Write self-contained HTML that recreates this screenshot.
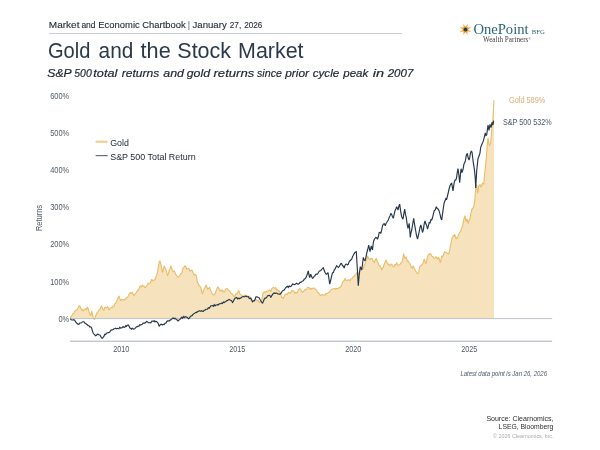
<!DOCTYPE html>
<html><head><meta charset="utf-8"><title>Gold and the Stock Market</title>
<style>
html,body{margin:0;padding:0;background:#fff;}
body{width:600px;height:450px;position:relative;overflow:hidden;font-family:"Liberation Sans",sans-serif;color:#2b3a4a;}
.t{position:absolute;white-space:nowrap;line-height:1;transform-origin:0 0;}
.r{transform-origin:100% 0;}
svg{position:absolute;left:0;top:0;}
svg text{font-family:"Liberation Sans",sans-serif;}
</style></head><body>
<div style="position:absolute;left:49px;top:33px;width:353px;height:1px;background:#c9ced8;"></div>
<svg width="600" height="450" viewBox="0 0 600 450">
  <text x="48.8" y="28" font-size="9.3" fill="#252d38" stroke="#252d38" stroke-width="0.12" textLength="30.7" lengthAdjust="spacingAndGlyphs">Market</text>
  <text x="81.4" y="28" font-size="9.3" fill="#252d38" stroke="#252d38" stroke-width="0.12" textLength="14.2" lengthAdjust="spacingAndGlyphs">and</text>
  <text x="98.3" y="28" font-size="9.3" fill="#252d38" stroke="#252d38" stroke-width="0.12" textLength="41.4" lengthAdjust="spacingAndGlyphs">Economic</text>
  <text x="142.3" y="28" font-size="9.3" fill="#252d38" stroke="#252d38" stroke-width="0.12" textLength="43.4" lengthAdjust="spacingAndGlyphs">Chartbook</text>
  <text x="188.2" y="28" font-size="9.3" fill="#252d38" stroke="#252d38" stroke-width="0.12" textLength="1.4" lengthAdjust="spacingAndGlyphs">|</text>
  <text x="192.5" y="28" font-size="9.3" fill="#252d38" stroke="#252d38" stroke-width="0.12" textLength="34.2" lengthAdjust="spacingAndGlyphs">January</text>
  <text x="229.7" y="28" font-size="9.3" fill="#252d38" stroke="#252d38" stroke-width="0.12" textLength="11.5" lengthAdjust="spacingAndGlyphs">27,</text>
  <text x="244.3" y="28" font-size="9.3" fill="#252d38" stroke="#252d38" stroke-width="0.12" textLength="18.0" lengthAdjust="spacingAndGlyphs">2026</text>
  <text x="48.0" y="58" font-size="21.6" fill="#2b3a4a"  textLength="42.4" lengthAdjust="spacingAndGlyphs">Gold</text>
  <text x="98.6" y="58" font-size="21.6" fill="#2b3a4a"  textLength="34.7" lengthAdjust="spacingAndGlyphs">and</text>
  <text x="140.6" y="58" font-size="21.6" fill="#2b3a4a"  textLength="30.1" lengthAdjust="spacingAndGlyphs">the</text>
  <text x="177.3" y="58" font-size="21.6" fill="#2b3a4a"  textLength="53.8" lengthAdjust="spacingAndGlyphs">Stock</text>
  <text x="238.1" y="58" font-size="21.6" fill="#2b3a4a"  textLength="65.4" lengthAdjust="spacingAndGlyphs">Market</text>
  <text x="47.3" y="76.5" font-size="11.8" fill="#1e2630" font-style="italic" stroke="#1e2630" stroke-width="0.2" textLength="24.4" lengthAdjust="spacingAndGlyphs">S&amp;P</text>
  <text x="74.3" y="76.5" font-size="11.8" fill="#1e2630" font-style="italic" stroke="#1e2630" stroke-width="0.2" textLength="17.4" lengthAdjust="spacingAndGlyphs">500</text>
  <text x="93.3" y="76.5" font-size="11.8" fill="#1e2630" font-style="italic" stroke="#1e2630" stroke-width="0.2" textLength="24.0" lengthAdjust="spacingAndGlyphs">total</text>
  <text x="121.7" y="76.5" font-size="11.8" fill="#1e2630" font-style="italic" stroke="#1e2630" stroke-width="0.2" textLength="37.6" lengthAdjust="spacingAndGlyphs">returns</text>
  <text x="163.3" y="76.5" font-size="11.8" fill="#1e2630" font-style="italic" stroke="#1e2630" stroke-width="0.2" textLength="20.7" lengthAdjust="spacingAndGlyphs">and</text>
  <text x="186.7" y="76.5" font-size="11.8" fill="#1e2630" font-style="italic" stroke="#1e2630" stroke-width="0.2" textLength="23.3" lengthAdjust="spacingAndGlyphs">gold</text>
  <text x="213.5" y="76.5" font-size="11.8" fill="#1e2630" font-style="italic" stroke="#1e2630" stroke-width="0.2" textLength="40.8" lengthAdjust="spacingAndGlyphs">returns</text>
  <text x="257" y="76.5" font-size="11.8" fill="#1e2630" font-style="italic" stroke="#1e2630" stroke-width="0.2" textLength="25.0" lengthAdjust="spacingAndGlyphs">since</text>
  <text x="285.2" y="76.5" font-size="11.8" fill="#1e2630" font-style="italic" stroke="#1e2630" stroke-width="0.2" textLength="23.8" lengthAdjust="spacingAndGlyphs">prior</text>
  <text x="312.7" y="76.5" font-size="11.8" fill="#1e2630" font-style="italic" stroke="#1e2630" stroke-width="0.2" textLength="26.6" lengthAdjust="spacingAndGlyphs">cycle</text>
  <text x="343.3" y="76.5" font-size="11.8" fill="#1e2630" font-style="italic" stroke="#1e2630" stroke-width="0.2" textLength="25.0" lengthAdjust="spacingAndGlyphs">peak</text>
  <text x="372.7" y="76.5" font-size="11.8" fill="#1e2630" font-style="italic" stroke="#1e2630" stroke-width="0.2" textLength="11.3" lengthAdjust="spacingAndGlyphs">in</text>
  <text x="387.7" y="76.5" font-size="11.8" fill="#1e2630" font-style="italic" stroke="#1e2630" stroke-width="0.2" textLength="25.6" lengthAdjust="spacingAndGlyphs">2007</text>
  <path d="M70.2,318.3 L71.2,316.3 L72.3,315.0 L73.2,313.2 L74.0,313.2 L74.8,311.0 L75.7,310.8 L76.5,310.1 L77.3,309.2 L78.1,307.8 L79.0,306.0 L79.8,305.8 L80.7,307.9 L81.5,310.0 L82.3,309.4 L83.2,310.8 L84.0,309.9 L84.8,309.2 L85.7,308.7 L86.5,310.0 L87.3,307.0 L88.2,308.5 L89.0,311.7 L89.8,313.6 L90.7,315.8 L91.8,310.8 L92.5,314.8 L93.2,317.5 L94.5,319.7 L95.5,316.2 L96.5,314.2 L97.3,312.2 L98.2,311.7 L99.0,310.0 L99.8,309.5 L100.7,307.4 L101.5,305.8 L102.3,307.7 L103.2,310.0 L104.0,310.2 L104.9,307.4 L105.7,307.5 L106.7,307.8 L107.7,306.7 L109.0,310.0 L109.8,308.9 L110.7,308.0 L111.5,307.3 L112.3,307.5 L113.2,306.1 L114.0,306.1 L114.8,303.7 L115.7,303.3 L116.5,301.6 L117.3,299.8 L118.2,297.4 L119.0,295.8 L119.8,298.4 L120.7,300.8 L121.5,299.7 L122.3,299.5 L123.2,299.6 L124.0,300.0 L124.8,299.8 L125.7,298.6 L126.5,297.7 L127.3,297.5 L128.1,296.3 L129.0,294.6 L129.8,293.3 L130.6,292.6 L131.5,293.4 L132.3,292.5 L133.2,294.6 L134.0,295.8 L134.8,294.0 L135.7,293.5 L136.5,292.1 L137.3,290.8 L138.1,290.3 L139.0,288.6 L139.8,286.7 L140.7,286.0 L141.5,287.3 L142.3,285.2 L143.2,285.8 L144.0,286.2 L144.9,287.5 L145.7,287.5 L146.5,285.7 L147.3,285.4 L148.2,283.3 L149.0,283.3 L150.0,283.3 L150.8,281.6 L151.7,279.2 L152.5,280.6 L153.3,280.8 L154.1,279.9 L155.0,279.5 L155.8,277.5 L156.7,274.6 L157.5,272.5 L158.3,267.6 L159.2,261.7 L160.0,260.8 L161.3,265.8 L162.5,272.5 L163.3,269.4 L164.2,265.8 L165.0,267.7 L165.8,269.2 L166.7,272.4 L167.5,275.8 L168.3,273.7 L169.2,270.0 L170.0,269.0 L170.8,265.8 L171.7,268.2 L172.5,270.8 L173.3,271.8 L174.2,270.9 L175.0,272.5 L175.8,274.4 L176.7,275.6 L177.5,276.7 L178.3,277.3 L179.2,276.3 L180.0,275.0 L180.8,273.6 L181.7,273.3 L182.5,270.1 L183.3,267.5 L184.2,267.1 L185.0,265.8 L185.8,266.4 L186.7,269.2 L187.5,268.7 L188.3,268.3 L189.2,269.2 L190.0,271.7 L190.8,270.5 L191.7,270.1 L192.5,270.8 L193.3,273.5 L194.2,275.0 L195.2,274.5 L196.3,275.8 L197.5,282.5 L198.3,283.6 L199.2,285.8 L200.0,286.4 L200.8,287.5 L201.7,291.7 L202.5,294.2 L203.3,290.8 L204.2,289.2 L205.2,287.0 L206.2,285.0 L207.5,289.2 L208.6,288.5 L209.7,287.5 L210.7,290.8 L211.7,292.5 L212.7,294.4 L213.7,295.0 L214.8,294.1 L215.8,291.7 L216.9,288.7 L218.0,286.7 L219.0,288.6 L220.0,290.8 L220.8,290.2 L221.7,291.1 L222.5,290.0 L223.6,291.9 L224.7,291.7 L225.5,289.4 L226.3,288.7 L227.3,288.6 L228.3,290.0 L229.1,290.5 L230.0,291.6 L230.8,293.3 L231.7,293.7 L232.5,294.2 L233.3,295.6 L234.2,296.7 L235.0,295.4 L235.9,294.0 L236.7,294.2 L237.7,292.1 L238.7,290.3 L240.0,294.2 L240.8,294.4 L241.7,295.4 L242.5,295.8 L243.3,296.5 L244.2,295.7 L245.0,295.0 L245.8,295.3 L246.7,295.8 L247.5,295.8 L248.3,296.7 L249.2,296.0 L250.0,297.5 L250.8,299.8 L251.7,300.9 L252.5,301.7 L253.3,301.7 L254.2,300.7 L255.0,299.2 L255.8,299.5 L256.7,300.1 L257.5,300.8 L258.3,300.5 L259.2,302.2 L260.0,302.5 L260.9,300.3 L261.7,300.0 L263.0,293.3 L263.9,292.1 L264.9,292.1 L265.8,292.5 L266.6,291.2 L267.5,291.0 L268.3,290.8 L269.1,290.1 L270.0,290.3 L270.8,291.7 L271.6,289.1 L272.5,288.0 L273.3,287.2 L274.2,287.9 L275.0,288.3 L275.8,287.7 L276.7,290.1 L277.5,289.7 L278.3,290.9 L279.2,290.8 L280.0,292.5 L280.9,294.5 L281.7,297.5 L282.5,297.6 L283.3,298.3 L284.1,296.6 L285.0,294.7 L285.8,294.2 L286.6,294.4 L287.5,294.1 L288.3,292.5 L289.1,292.8 L290.0,293.3 L290.8,292.4 L291.7,290.7 L292.5,290.8 L293.3,290.8 L294.2,292.1 L295.0,293.3 L295.8,292.3 L296.7,293.0 L297.5,291.7 L298.6,289.5 L299.7,288.7 L300.7,289.1 L301.7,291.7 L302.5,292.4 L303.4,291.2 L304.2,290.8 L305.0,289.5 L305.9,289.8 L306.7,289.2 L307.5,287.3 L308.3,287.5 L309.1,287.8 L310.0,289.1 L310.8,288.3 L311.6,289.0 L312.5,288.5 L313.3,288.0 L314.1,288.0 L315.0,288.8 L315.8,289.7 L316.6,289.9 L317.5,292.2 L318.3,292.5 L319.1,293.5 L320.0,295.0 L320.8,295.3 L321.6,294.8 L322.5,294.5 L323.3,295.0 L324.1,295.1 L325.0,294.9 L325.8,293.3 L326.6,293.8 L327.5,293.4 L328.3,292.5 L329.1,292.4 L330.0,291.4 L330.8,290.0 L331.6,289.0 L332.5,289.2 L333.3,288.7 L334.1,288.7 L335.0,288.3 L335.8,289.7 L336.6,288.3 L337.5,288.5 L338.3,288.7 L339.1,287.6 L340.0,287.5 L340.8,286.3 L341.7,285.2 L342.5,282.5 L343.3,281.0 L344.2,280.7 L345.0,278.3 L345.8,280.0 L346.7,280.5 L347.5,280.0 L348.3,280.0 L349.2,279.9 L350.0,280.8 L350.8,279.3 L351.7,278.4 L352.5,278.3 L353.3,276.5 L354.2,276.4 L355.0,275.0 L355.9,274.7 L356.7,272.5 L358.0,274.2 L359.0,272.9 L360.0,270.0 L360.8,269.7 L361.7,269.8 L362.5,269.2 L363.3,268.2 L364.2,264.9 L365.0,264.2 L365.8,261.8 L366.7,259.6 L367.5,255.8 L368.4,258.2 L369.2,259.2 L370.0,259.5 L370.9,258.5 L371.7,258.3 L372.5,258.9 L373.4,261.8 L374.2,262.5 L375.2,260.0 L376.3,258.3 L377.3,261.5 L378.3,263.3 L379.1,265.7 L380.0,265.8 L380.9,267.7 L381.7,270.0 L382.5,267.8 L383.4,267.2 L384.2,264.2 L385.0,262.6 L385.8,260.0 L386.6,261.3 L387.5,264.2 L388.6,264.1 L389.7,265.8 L390.7,264.2 L391.7,264.2 L392.5,266.0 L393.4,266.6 L394.2,266.7 L395.0,264.5 L395.9,264.7 L396.7,262.5 L397.5,264.9 L398.3,265.0 L399.1,265.0 L400.0,264.3 L401.0,262.9 L402.0,262.3 L402.9,258.1 L403.7,253.7 L404.7,258.3 L406.0,257.0 L407.3,261.0 L408.3,261.1 L409.3,263.0 L410.3,264.2 L411.3,267.7 L412.3,267.8 L413.3,265.7 L414.1,268.1 L415.0,269.7 L415.9,271.4 L416.7,273.0 L417.7,273.7 L418.7,272.3 L419.7,267.0 L420.5,265.8 L421.3,265.0 L422.1,264.9 L423.0,263.0 L424.3,259.0 L425.1,262.1 L426.0,263.7 L426.9,259.3 L427.7,256.3 L428.5,254.7 L429.3,254.3 L430.0,253.5 L430.7,253.7 L432.0,256.3 L433.0,256.7 L434.0,258.3 L434.9,257.9 L435.7,257.0 L436.5,257.4 L437.3,259.0 L438.0,258.2 L438.7,257.7 L439.5,259.5 L440.3,263.0 L441.6,256.3 L442.5,256.7 L443.3,255.0 L444.0,253.0 L444.7,251.7 L445.7,252.2 L446.7,253.0 L447.7,253.6 L448.7,253.7 L449.5,251.0 L450.4,246.3 L451.2,242.1 L452.0,238.3 L453.3,235.7 L454.0,236.1 L454.7,234.3 L455.5,236.7 L456.3,239.0 L457.1,237.7 L458.0,236.3 L459.3,233.0 L460.0,232.1 L460.7,231.0 L461.7,227.4 L462.7,226.3 L463.3,221.7 L464.1,218.5 L465.0,215.7 L466.0,221.7 L467.0,219.0 L468.3,223.7 L469.1,220.5 L470.0,219.0 L471.0,212.6 L472.0,209.0 L473.3,207.7 L474.0,205.2 L474.7,201.0 L475.5,190.0 L476.7,184.7 L477.6,193.3 L478.7,186.0 L480.0,184.7 L481.3,187.3 L482.0,184.3 L482.7,183.3 L483.7,184.0 L484.7,173.3 L486.0,161.3 L487.0,148.0 L488.0,138.0 L489.3,146.0 L490.0,144.2 L490.7,142.5 L491.7,130.3 L492.7,122.3 L493.3,111.7 L494.0,100.3 L494.0,318.4 L70.2,318.4 Z" fill="#f6e3bd" stroke="none"/>
  <path d="M70.2,318.3 L71.2,316.3 L72.3,315.0 L73.2,313.2 L74.0,313.2 L74.8,311.0 L75.7,310.8 L76.5,310.1 L77.3,309.2 L78.1,307.8 L79.0,306.0 L79.8,305.8 L80.7,307.9 L81.5,310.0 L82.3,309.4 L83.2,310.8 L84.0,309.9 L84.8,309.2 L85.7,308.7 L86.5,310.0 L87.3,307.0 L88.2,308.5 L89.0,311.7 L89.8,313.6 L90.7,315.8 L91.8,310.8 L92.5,314.8 L93.2,317.5 L94.5,319.7 L95.5,316.2 L96.5,314.2 L97.3,312.2 L98.2,311.7 L99.0,310.0 L99.8,309.5 L100.7,307.4 L101.5,305.8 L102.3,307.7 L103.2,310.0 L104.0,310.2 L104.9,307.4 L105.7,307.5 L106.7,307.8 L107.7,306.7 L109.0,310.0 L109.8,308.9 L110.7,308.0 L111.5,307.3 L112.3,307.5 L113.2,306.1 L114.0,306.1 L114.8,303.7 L115.7,303.3 L116.5,301.6 L117.3,299.8 L118.2,297.4 L119.0,295.8 L119.8,298.4 L120.7,300.8 L121.5,299.7 L122.3,299.5 L123.2,299.6 L124.0,300.0 L124.8,299.8 L125.7,298.6 L126.5,297.7 L127.3,297.5 L128.1,296.3 L129.0,294.6 L129.8,293.3 L130.6,292.6 L131.5,293.4 L132.3,292.5 L133.2,294.6 L134.0,295.8 L134.8,294.0 L135.7,293.5 L136.5,292.1 L137.3,290.8 L138.1,290.3 L139.0,288.6 L139.8,286.7 L140.7,286.0 L141.5,287.3 L142.3,285.2 L143.2,285.8 L144.0,286.2 L144.9,287.5 L145.7,287.5 L146.5,285.7 L147.3,285.4 L148.2,283.3 L149.0,283.3 L150.0,283.3 L150.8,281.6 L151.7,279.2 L152.5,280.6 L153.3,280.8 L154.1,279.9 L155.0,279.5 L155.8,277.5 L156.7,274.6 L157.5,272.5 L158.3,267.6 L159.2,261.7 L160.0,260.8 L161.3,265.8 L162.5,272.5 L163.3,269.4 L164.2,265.8 L165.0,267.7 L165.8,269.2 L166.7,272.4 L167.5,275.8 L168.3,273.7 L169.2,270.0 L170.0,269.0 L170.8,265.8 L171.7,268.2 L172.5,270.8 L173.3,271.8 L174.2,270.9 L175.0,272.5 L175.8,274.4 L176.7,275.6 L177.5,276.7 L178.3,277.3 L179.2,276.3 L180.0,275.0 L180.8,273.6 L181.7,273.3 L182.5,270.1 L183.3,267.5 L184.2,267.1 L185.0,265.8 L185.8,266.4 L186.7,269.2 L187.5,268.7 L188.3,268.3 L189.2,269.2 L190.0,271.7 L190.8,270.5 L191.7,270.1 L192.5,270.8 L193.3,273.5 L194.2,275.0 L195.2,274.5 L196.3,275.8 L197.5,282.5 L198.3,283.6 L199.2,285.8 L200.0,286.4 L200.8,287.5 L201.7,291.7 L202.5,294.2 L203.3,290.8 L204.2,289.2 L205.2,287.0 L206.2,285.0 L207.5,289.2 L208.6,288.5 L209.7,287.5 L210.7,290.8 L211.7,292.5 L212.7,294.4 L213.7,295.0 L214.8,294.1 L215.8,291.7 L216.9,288.7 L218.0,286.7 L219.0,288.6 L220.0,290.8 L220.8,290.2 L221.7,291.1 L222.5,290.0 L223.6,291.9 L224.7,291.7 L225.5,289.4 L226.3,288.7 L227.3,288.6 L228.3,290.0 L229.1,290.5 L230.0,291.6 L230.8,293.3 L231.7,293.7 L232.5,294.2 L233.3,295.6 L234.2,296.7 L235.0,295.4 L235.9,294.0 L236.7,294.2 L237.7,292.1 L238.7,290.3 L240.0,294.2 L240.8,294.4 L241.7,295.4 L242.5,295.8 L243.3,296.5 L244.2,295.7 L245.0,295.0 L245.8,295.3 L246.7,295.8 L247.5,295.8 L248.3,296.7 L249.2,296.0 L250.0,297.5 L250.8,299.8 L251.7,300.9 L252.5,301.7 L253.3,301.7 L254.2,300.7 L255.0,299.2 L255.8,299.5 L256.7,300.1 L257.5,300.8 L258.3,300.5 L259.2,302.2 L260.0,302.5 L260.9,300.3 L261.7,300.0 L263.0,293.3 L263.9,292.1 L264.9,292.1 L265.8,292.5 L266.6,291.2 L267.5,291.0 L268.3,290.8 L269.1,290.1 L270.0,290.3 L270.8,291.7 L271.6,289.1 L272.5,288.0 L273.3,287.2 L274.2,287.9 L275.0,288.3 L275.8,287.7 L276.7,290.1 L277.5,289.7 L278.3,290.9 L279.2,290.8 L280.0,292.5 L280.9,294.5 L281.7,297.5 L282.5,297.6 L283.3,298.3 L284.1,296.6 L285.0,294.7 L285.8,294.2 L286.6,294.4 L287.5,294.1 L288.3,292.5 L289.1,292.8 L290.0,293.3 L290.8,292.4 L291.7,290.7 L292.5,290.8 L293.3,290.8 L294.2,292.1 L295.0,293.3 L295.8,292.3 L296.7,293.0 L297.5,291.7 L298.6,289.5 L299.7,288.7 L300.7,289.1 L301.7,291.7 L302.5,292.4 L303.4,291.2 L304.2,290.8 L305.0,289.5 L305.9,289.8 L306.7,289.2 L307.5,287.3 L308.3,287.5 L309.1,287.8 L310.0,289.1 L310.8,288.3 L311.6,289.0 L312.5,288.5 L313.3,288.0 L314.1,288.0 L315.0,288.8 L315.8,289.7 L316.6,289.9 L317.5,292.2 L318.3,292.5 L319.1,293.5 L320.0,295.0 L320.8,295.3 L321.6,294.8 L322.5,294.5 L323.3,295.0 L324.1,295.1 L325.0,294.9 L325.8,293.3 L326.6,293.8 L327.5,293.4 L328.3,292.5 L329.1,292.4 L330.0,291.4 L330.8,290.0 L331.6,289.0 L332.5,289.2 L333.3,288.7 L334.1,288.7 L335.0,288.3 L335.8,289.7 L336.6,288.3 L337.5,288.5 L338.3,288.7 L339.1,287.6 L340.0,287.5 L340.8,286.3 L341.7,285.2 L342.5,282.5 L343.3,281.0 L344.2,280.7 L345.0,278.3 L345.8,280.0 L346.7,280.5 L347.5,280.0 L348.3,280.0 L349.2,279.9 L350.0,280.8 L350.8,279.3 L351.7,278.4 L352.5,278.3 L353.3,276.5 L354.2,276.4 L355.0,275.0 L355.9,274.7 L356.7,272.5 L358.0,274.2 L359.0,272.9 L360.0,270.0 L360.8,269.7 L361.7,269.8 L362.5,269.2 L363.3,268.2 L364.2,264.9 L365.0,264.2 L365.8,261.8 L366.7,259.6 L367.5,255.8 L368.4,258.2 L369.2,259.2 L370.0,259.5 L370.9,258.5 L371.7,258.3 L372.5,258.9 L373.4,261.8 L374.2,262.5 L375.2,260.0 L376.3,258.3 L377.3,261.5 L378.3,263.3 L379.1,265.7 L380.0,265.8 L380.9,267.7 L381.7,270.0 L382.5,267.8 L383.4,267.2 L384.2,264.2 L385.0,262.6 L385.8,260.0 L386.6,261.3 L387.5,264.2 L388.6,264.1 L389.7,265.8 L390.7,264.2 L391.7,264.2 L392.5,266.0 L393.4,266.6 L394.2,266.7 L395.0,264.5 L395.9,264.7 L396.7,262.5 L397.5,264.9 L398.3,265.0 L399.1,265.0 L400.0,264.3 L401.0,262.9 L402.0,262.3 L402.9,258.1 L403.7,253.7 L404.7,258.3 L406.0,257.0 L407.3,261.0 L408.3,261.1 L409.3,263.0 L410.3,264.2 L411.3,267.7 L412.3,267.8 L413.3,265.7 L414.1,268.1 L415.0,269.7 L415.9,271.4 L416.7,273.0 L417.7,273.7 L418.7,272.3 L419.7,267.0 L420.5,265.8 L421.3,265.0 L422.1,264.9 L423.0,263.0 L424.3,259.0 L425.1,262.1 L426.0,263.7 L426.9,259.3 L427.7,256.3 L428.5,254.7 L429.3,254.3 L430.0,253.5 L430.7,253.7 L432.0,256.3 L433.0,256.7 L434.0,258.3 L434.9,257.9 L435.7,257.0 L436.5,257.4 L437.3,259.0 L438.0,258.2 L438.7,257.7 L439.5,259.5 L440.3,263.0 L441.6,256.3 L442.5,256.7 L443.3,255.0 L444.0,253.0 L444.7,251.7 L445.7,252.2 L446.7,253.0 L447.7,253.6 L448.7,253.7 L449.5,251.0 L450.4,246.3 L451.2,242.1 L452.0,238.3 L453.3,235.7 L454.0,236.1 L454.7,234.3 L455.5,236.7 L456.3,239.0 L457.1,237.7 L458.0,236.3 L459.3,233.0 L460.0,232.1 L460.7,231.0 L461.7,227.4 L462.7,226.3 L463.3,221.7 L464.1,218.5 L465.0,215.7 L466.0,221.7 L467.0,219.0 L468.3,223.7 L469.1,220.5 L470.0,219.0 L471.0,212.6 L472.0,209.0 L473.3,207.7 L474.0,205.2 L474.7,201.0 L475.5,190.0 L476.7,184.7 L477.6,193.3 L478.7,186.0 L480.0,184.7 L481.3,187.3 L482.0,184.3 L482.7,183.3 L483.7,184.0 L484.7,173.3 L486.0,161.3 L487.0,148.0 L488.0,138.0 L489.3,146.0 L490.0,144.2 L490.7,142.5 L491.7,130.3 L492.7,122.3 L493.3,111.7 L494.0,100.3" fill="none" stroke="#ebbc68" stroke-width="1.1" stroke-linejoin="miter" stroke-miterlimit="2"/>
  <line x1="70" y1="318.6" x2="552.2" y2="318.6" stroke="#b5bcc4" stroke-width="0.9"/>
  <line x1="70" y1="341.2" x2="552.2" y2="341.2" stroke="#a8b0b9" stroke-width="1"/>
  <path d="M70.2,318.7 L71.2,319.7 L72.3,320.0 L73.2,319.9 L74.0,319.7 L74.8,320.5 L75.7,321.9 L76.5,323.0 L77.3,323.5 L78.2,324.3 L79.0,324.2 L79.8,323.0 L80.7,323.0 L81.5,322.8 L82.3,321.9 L83.2,321.7 L84.0,321.7 L84.8,323.0 L85.7,323.4 L86.5,324.2 L87.3,324.8 L88.2,325.7 L89.0,325.8 L89.8,327.0 L90.7,326.8 L91.5,327.5 L92.3,330.6 L93.2,333.3 L94.0,334.1 L94.9,335.0 L95.7,335.8 L96.5,335.3 L97.3,334.2 L98.1,334.4 L99.0,334.8 L99.8,335.0 L100.6,336.1 L101.5,337.9 L102.3,338.3 L103.1,337.3 L104.0,336.2 L104.8,334.2 L105.7,334.5 L106.5,333.0 L107.3,333.0 L108.2,332.5 L109.0,332.7 L109.8,332.0 L110.7,330.4 L111.5,329.9 L112.3,330.0 L113.1,329.6 L114.0,328.7 L114.8,328.7 L115.6,328.2 L116.5,328.9 L117.3,328.3 L118.1,328.6 L119.0,328.7 L119.8,327.3 L120.6,328.1 L121.5,327.9 L122.3,327.5 L123.1,326.6 L124.0,327.4 L124.8,327.2 L125.7,325.6 L126.5,326.4 L127.4,325.2 L128.2,325.0 L129.0,326.1 L129.9,328.0 L130.7,328.3 L131.5,329.1 L132.3,328.2 L133.2,328.9 L134.0,329.2 L134.8,328.6 L135.7,327.7 L136.5,326.8 L137.3,326.7 L138.1,326.0 L139.0,326.2 L139.8,324.7 L140.6,325.1 L141.5,324.5 L142.3,324.2 L143.1,323.0 L144.0,323.1 L144.8,323.1 L145.6,322.6 L146.5,321.4 L147.3,321.7 L148.2,322.7 L149.1,322.7 L150.0,322.5 L150.8,323.0 L151.7,321.3 L152.5,321.2 L153.3,321.3 L154.2,320.7 L155.0,321.9 L155.8,321.2 L156.7,321.7 L158.0,323.0 L159.2,326.3 L160.5,324.5 L161.5,324.2 L162.5,325.0 L163.3,324.3 L164.2,324.5 L165.0,323.3 L165.8,323.2 L166.7,321.7 L167.5,320.9 L168.3,320.8 L169.2,321.1 L170.0,320.1 L170.8,319.9 L171.7,319.2 L172.5,318.3 L173.3,318.0 L174.2,318.8 L175.0,318.3 L175.8,319.0 L176.7,319.3 L177.5,320.8 L178.3,320.9 L179.2,319.8 L180.0,319.4 L180.8,318.3 L181.6,317.3 L182.5,318.2 L183.3,316.6 L184.2,317.6 L185.0,316.7 L185.8,316.9 L186.7,317.1 L187.5,317.7 L188.4,318.7 L189.2,318.3 L190.0,317.1 L190.8,316.0 L191.7,315.9 L192.5,315.0 L193.3,314.1 L194.2,313.4 L195.0,312.9 L195.9,312.3 L196.7,312.5 L197.5,311.6 L198.3,311.3 L199.2,310.9 L200.0,310.8 L200.8,311.4 L201.7,310.7 L202.5,311.2 L203.3,311.3 L204.1,310.3 L205.0,310.2 L205.8,309.2 L206.7,309.2 L207.5,309.2 L208.3,307.7 L209.2,308.2 L210.0,307.2 L210.9,305.9 L211.7,305.8 L212.5,305.6 L213.4,306.3 L214.2,304.7 L215.0,305.8 L215.9,305.0 L216.7,305.0 L217.5,304.7 L218.4,304.9 L219.2,303.8 L220.0,303.7 L220.9,303.7 L221.7,303.0 L222.5,303.5 L223.4,302.0 L224.2,302.5 L225.0,301.9 L225.9,301.4 L226.7,300.8 L227.5,300.4 L228.3,300.1 L229.2,299.4 L230.0,300.0 L230.8,300.2 L231.7,300.9 L232.5,302.5 L233.3,301.5 L234.2,299.3 L235.0,298.3 L235.8,297.7 L236.7,297.5 L237.5,298.9 L238.3,298.3 L239.2,298.8 L240.0,298.0 L240.8,298.1 L241.7,297.1 L242.5,296.7 L243.4,296.6 L244.2,296.7 L245.0,296.6 L245.8,296.1 L246.7,296.6 L247.5,296.7 L248.3,296.6 L249.2,298.2 L250.0,298.5 L250.8,298.0 L251.7,299.9 L252.5,301.7 L253.3,300.8 L254.2,300.8 L255.0,299.8 L255.8,297.0 L256.6,296.8 L257.5,297.1 L258.3,297.5 L259.1,297.7 L260.0,299.5 L260.8,300.8 L261.6,302.0 L262.5,303.3 L263.4,301.3 L264.2,299.2 L265.0,298.1 L265.9,298.1 L266.7,297.5 L267.5,295.8 L268.4,295.6 L269.2,295.3 L270.0,295.6 L270.8,297.5 L271.6,295.9 L272.5,294.7 L273.3,293.4 L274.2,292.9 L275.0,293.3 L275.8,293.1 L276.7,293.1 L277.5,293.7 L278.3,294.0 L279.2,294.1 L280.0,294.2 L280.8,293.5 L281.7,292.2 L282.5,290.8 L283.3,290.5 L284.2,290.1 L285.0,288.7 L285.8,287.7 L286.7,286.8 L287.5,286.3 L288.3,287.4 L289.2,285.9 L290.0,286.7 L290.8,286.5 L291.6,285.7 L292.5,283.9 L293.3,284.2 L294.1,284.6 L295.0,284.5 L295.9,283.8 L296.7,283.3 L297.5,283.9 L298.4,284.2 L299.2,283.7 L300.0,282.3 L300.9,282.4 L301.7,281.7 L302.5,280.9 L303.4,280.7 L304.2,279.2 L305.0,278.7 L305.9,277.6 L306.7,275.8 L307.5,273.5 L308.3,270.8 L309.0,275.0 L309.7,277.5 L310.8,274.2 L311.6,276.6 L312.5,278.3 L313.3,277.9 L314.2,276.1 L315.0,275.8 L315.8,274.3 L316.7,274.0 L317.5,274.2 L318.3,272.8 L319.2,271.1 L320.0,270.8 L320.8,270.7 L321.6,269.3 L322.5,268.6 L323.3,267.5 L324.1,270.3 L325.0,272.5 L325.9,273.7 L326.7,274.2 L328.0,272.5 L328.9,278.3 L329.7,284.2 L330.5,281.0 L331.7,275.8 L332.5,272.8 L333.4,272.6 L334.2,270.0 L335.0,269.1 L335.9,267.2 L336.7,265.8 L337.5,266.7 L338.3,267.5 L339.1,266.6 L340.0,265.0 L340.9,263.4 L341.7,263.7 L342.5,265.7 L343.4,266.0 L344.2,268.0 L345.0,265.2 L345.8,264.2 L346.6,264.1 L347.5,265.0 L348.3,264.1 L349.2,261.5 L350.0,260.8 L350.8,260.0 L351.7,259.2 L352.5,256.7 L353.3,255.3 L354.2,253.6 L355.0,252.5 L356.3,251.7 L357.5,271.7 L358.3,285.8 L359.2,275.0 L360.3,266.7 L361.0,268.3 L361.7,270.0 L362.5,264.2 L363.3,257.5 L364.1,259.8 L365.0,260.8 L365.9,257.3 L366.7,253.3 L367.7,249.5 L368.7,245.0 L370.0,251.7 L371.3,245.8 L372.5,250.0 L373.3,242.5 L374.1,239.8 L375.0,238.3 L375.8,237.5 L376.6,237.7 L377.5,239.2 L378.4,236.5 L379.2,232.5 L380.0,232.4 L380.8,233.3 L381.6,230.4 L382.5,225.9 L383.3,224.2 L384.3,223.8 L385.3,225.8 L386.0,223.5 L386.7,222.5 L387.5,221.3 L388.4,219.7 L389.2,217.5 L390.0,215.9 L390.8,213.3 L391.6,214.4 L392.5,216.7 L393.3,218.3 L394.1,214.4 L395.0,210.8 L395.9,208.7 L396.7,206.7 L398.0,210.0 L398.9,206.0 L399.7,204.2 L400.7,211.6 L401.7,216.7 L403.0,219.2 L403.9,213.3 L404.7,209.2 L405.5,214.7 L406.3,217.5 L407.1,224.1 L408.0,228.3 L409.2,223.3 L410.3,237.5 L411.0,232.5 L411.7,230.0 L412.7,224.0 L413.7,218.3 L414.5,224.2 L415.3,228.3 L416.4,235.0 L417.5,239.2 L418.4,235.3 L419.2,231.7 L420.0,227.7 L420.8,225.0 L421.6,228.0 L422.5,232.5 L423.3,229.8 L424.2,223.9 L425.0,220.8 L425.8,223.8 L426.7,225.4 L427.5,229.2 L428.4,225.9 L429.2,222.5 L430.0,222.9 L430.9,219.8 L431.7,220.0 L432.5,217.8 L433.4,213.9 L434.2,210.8 L435.2,209.9 L436.3,206.7 L437.3,208.5 L438.3,209.2 L439.1,210.9 L440.0,214.2 L440.9,218.2 L441.7,220.0 L442.5,214.1 L443.3,208.3 L444.1,203.1 L445.0,200.8 L445.9,198.5 L446.7,199.2 L447.5,195.8 L448.3,192.5 L449.1,189.0 L450.0,185.8 L450.9,183.9 L451.7,183.3 L453.0,190.8 L454.2,182.5 L455.0,180.1 L455.8,180.0 L456.5,178.0 L457.2,172.8 L458.0,168.7 L458.9,175.1 L459.7,182.7 L461.0,168.7 L462.0,172.7 L463.0,169.5 L464.0,164.0 L465.3,161.3 L466.3,155.5 L467.3,153.3 L468.1,157.5 L469.0,160.0 L469.7,157.9 L470.4,153.3 L471.2,151.3 L472.0,152.0 L473.3,162.7 L474.4,169.3 L475.3,178.7 L475.7,188.0 L476.7,170.7 L478.0,158.7 L479.3,155.3 L480.0,152.8 L480.7,147.3 L482.0,144.0 L483.0,141.9 L484.0,138.3 L485.3,133.0 L486.0,135.5 L486.7,135.0 L488.0,125.0 L489.0,130.3 L490.0,124.3 L491.0,127.7 L492.0,122.3 L493.0,125.0 L493.6,120.7" fill="none" stroke="#24364a" stroke-width="1.15" stroke-linejoin="miter" stroke-miterlimit="2"/>
  <g font-size="8.3" fill="#4f5a66" text-anchor="end">
    <text x="69.2" y="98.9" textLength="19" lengthAdjust="spacingAndGlyphs">600%</text>
    <text x="69.2" y="136.0" textLength="19" lengthAdjust="spacingAndGlyphs">500%</text>
    <text x="69.2" y="173.2" textLength="19" lengthAdjust="spacingAndGlyphs">400%</text>
    <text x="69.2" y="210.3" textLength="19" lengthAdjust="spacingAndGlyphs">300%</text>
    <text x="69.2" y="247.4" textLength="19" lengthAdjust="spacingAndGlyphs">200%</text>
    <text x="69.2" y="284.6" textLength="19" lengthAdjust="spacingAndGlyphs">100%</text>
    <text x="69.2" y="321.7" textLength="10.8" lengthAdjust="spacingAndGlyphs">0%</text>
  </g>
  <g font-size="8.3" fill="#4f5a66" text-anchor="middle">
    <text x="121.3" y="351.6" textLength="16" lengthAdjust="spacingAndGlyphs">2010</text>
    <text x="237.3" y="351.6" textLength="16" lengthAdjust="spacingAndGlyphs">2015</text>
    <text x="353.3" y="351.6" textLength="16" lengthAdjust="spacingAndGlyphs">2020</text>
    <text x="469.3" y="351.6" textLength="16" lengthAdjust="spacingAndGlyphs">2025</text>
  </g>
  <text x="0" y="0" font-size="8.3" fill="#4f5a66" text-anchor="middle" transform="translate(42,218) rotate(-90)" textLength="26.2" lengthAdjust="spacingAndGlyphs">Returns</text>
  <line x1="95.6" y1="141.7" x2="107.6" y2="141.7" stroke="#f0cf94" stroke-width="2.2"/>
  <line x1="95.6" y1="155.6" x2="107.6" y2="155.6" stroke="#5f7288" stroke-width="1.2"/>
  <text x="110.2" y="145.6" font-size="9.8" fill="#222b36" textLength="18.8" lengthAdjust="spacingAndGlyphs">Gold</text>
  <text x="110.2" y="160" font-size="9.8" fill="#222b36" textLength="85.4" lengthAdjust="spacingAndGlyphs">S&amp;P 500 Total Return</text>
  <text x="509" y="103.1" font-size="9" fill="#e0aa78" textLength="36.3" lengthAdjust="spacingAndGlyphs">Gold 589%</text>
  <text x="503" y="124.7" font-size="9" fill="#4b5969" textLength="48.6" lengthAdjust="spacingAndGlyphs">S&amp;P 500 532%</text>
  <text x="460.4" y="375.6" font-size="6.6" font-style="italic" fill="#4a5a6a" textLength="86.6" lengthAdjust="spacingAndGlyphs">Latest data point is Jan 26, 2026</text>
  <text x="553.4" y="421" font-size="7.8" fill="#2a2a2a" text-anchor="end" textLength="67" lengthAdjust="spacingAndGlyphs">Source: Clearnomics,</text>
  <text x="553.4" y="429.4" font-size="7.8" fill="#2a2a2a" text-anchor="end" textLength="54.8" lengthAdjust="spacingAndGlyphs">LSEG, Bloomberg</text>
  <text x="553.4" y="438" font-size="5.6" fill="#aaa" text-anchor="end" textLength="60.4" lengthAdjust="spacingAndGlyphs">© 2026 Clearnomics, Inc.</text>
  <!-- logo -->
  <g transform="translate(465.5,29.5)">
    <g fill="#f5a23a">
      <polygon points="0,-6.3 1.0,-2.0 -1.0,-2.0" transform="rotate(22.5)"/>
      <polygon points="0,-6.3 1.0,-2.0 -1.0,-2.0" transform="rotate(67.5)"/>
      <polygon points="0,-6.3 1.0,-2.0 -1.0,-2.0" transform="rotate(112.5)"/>
      <polygon points="0,-6.3 1.0,-2.0 -1.0,-2.0" transform="rotate(157.5)"/>
      <polygon points="0,-6.3 1.0,-2.0 -1.0,-2.0" transform="rotate(202.5)"/>
      <polygon points="0,-6.3 1.0,-2.0 -1.0,-2.0" transform="rotate(247.5)"/>
      <polygon points="0,-6.3 1.0,-2.0 -1.0,-2.0" transform="rotate(292.5)"/>
      <polygon points="0,-6.3 1.0,-2.0 -1.0,-2.0" transform="rotate(337.5)"/>
    </g>
    <circle r="2.7" fill="#f29422"/><circle r="1.9" fill="#3c6b3a"/><circle r="1.5" fill="#0f3d6b"/>
  </g>
  <text x="473.4" y="33.7" font-size="14.8" fill="#2a6478" style="font-family:'Liberation Serif',serif" textLength="55.2" lengthAdjust="spacingAndGlyphs">OnePoint</text>
  <text x="531.8" y="33.7" font-size="6.3" fill="#2a6478" style="font-family:'Liberation Serif',serif" textLength="13" lengthAdjust="spacingAndGlyphs">BFG</text>
  <text x="483" y="41.9" font-size="7.2" fill="#444" style="font-family:'Liberation Serif',serif" textLength="45.3" lengthAdjust="spacingAndGlyphs">Wealth Partners</text>
  <text x="528.6" y="39.5" font-size="3" fill="#444" style="font-family:'Liberation Serif',serif">®</text>
</svg>
</body></html>
